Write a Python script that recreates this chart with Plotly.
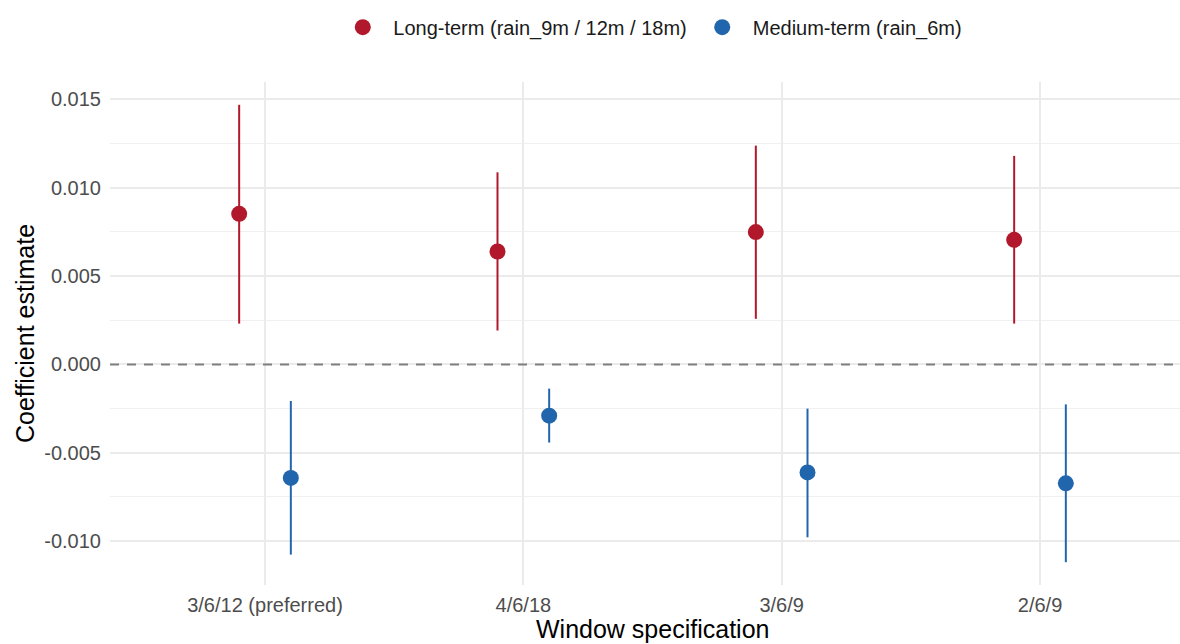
import plotly.graph_objects as go

categories = ["3/6/12 (preferred)", "4/6/18", "3/6/9", "2/6/9"]

long_label = "Long-term (rain_9m / 12m / 18m)"
long_est = [0.00852, 0.00639, 0.00749, 0.00705]
long_lo = [0.00231, 0.00192, 0.00258, 0.00231]
long_hi = [0.01469, 0.01087, 0.01238, 0.01180]

med_label = "Medium-term (rain_6m)"
med_est = [-0.00642, -0.00290, -0.00611, -0.00673]
med_lo = [-0.01076, -0.00442, -0.00978, -0.01119]
med_hi = [-0.00207, -0.00137, -0.00250, -0.00226]

y_ticks = [-0.010, -0.005, 0.000, 0.005, 0.010, 0.015]
y_ticktext = ["-0.010", "-0.005", "0.000", "0.005", "0.010", "0.015"]

x_title = "Window specification"
y_title = "Coefficient estimate"

RED = "#B2182B"
BLUE = "#2166AC"
FONT = "Liberation Sans, Arial, Helvetica, sans-serif"

pos = list(range(1, len(categories) + 1))
dodge = 0.1

fig = go.Figure()


def add_series(est, lo, hi, label, color, offset):
    xs = [p + offset for p in pos]
    fig.add_trace(go.Scatter(
        x=xs, y=est, mode="markers", name=label,
        marker=dict(color=color, size=16, line=dict(width=0)),
        error_y=dict(type="data", symmetric=False,
                     array=[h - e for h, e in zip(hi, est)],
                     arrayminus=[e - l for e, l in zip(est, lo)],
                     color=color, thickness=2, width=0),
        hovertemplate="%{y:.4f}<extra>" + label + "</extra>",
    ))


add_series(long_est, long_lo, long_hi, long_label, RED, -dodge)
add_series(med_est, med_lo, med_hi, med_label, BLUE, dodge)

fig.add_shape(type="line", xref="paper", yref="y", x0=0, x1=1, y0=0, y1=0,
              line=dict(color="#7F7F7F", width=2, dash="9px,8px"), layer="above")

fig.add_annotation(text=x_title, xref="paper", yref="paper", x=0.5, y=-0.0874,
                   xanchor="center", yanchor="middle", showarrow=False,
                   font=dict(size=25, color="#000000", family=FONT))

fig.update_layout(
    width=1200, height=644,
    margin=dict(l=110, r=5, t=82, b=58.5, autoexpand=False),
    paper_bgcolor="white", plot_bgcolor="white",
    font=dict(family=FONT, color="#000000"),
    showlegend=True,
    legend=dict(orientation="h", x=0.4975, xanchor="center", y=1.109, yanchor="middle",
                font=dict(size=20, color="#1A1A1A"), itemwidth=51,
                bgcolor="rgba(0,0,0,0)"),
    xaxis=dict(
        range=[0.4, 4.6], tickmode="array", tickvals=pos, ticktext=categories,
        showgrid=True, gridcolor="#EBEBEB", gridwidth=2, zeroline=False,
        showline=False, ticks="", tickfont=dict(size=20, color="#4D4D4D"),
        ticklabelstandoff=6, automargin=False,
    ),
    yaxis=dict(
        range=[-0.01248, 0.01598], tickmode="array", tickvals=y_ticks, ticktext=y_ticktext,
        showgrid=True, gridcolor="#EBEBEB", gridwidth=2, zeroline=False,
        showline=False, ticks="", tickfont=dict(size=20, color="#4D4D4D"),
        ticklabelstandoff=8, automargin=False,
        minor=dict(dtick=0.0025, tick0=0.0025, showgrid=True, gridcolor="#F0F0F0", gridwidth=1),
        title=dict(text=y_title, font=dict(size=25, color="#000000"), standoff=2),
    ),
)

fig.write_html("out.html", config={"displayModeBar": False},
               post_script="document.body.style.margin='0px';document.body.style.overflow='hidden';")
